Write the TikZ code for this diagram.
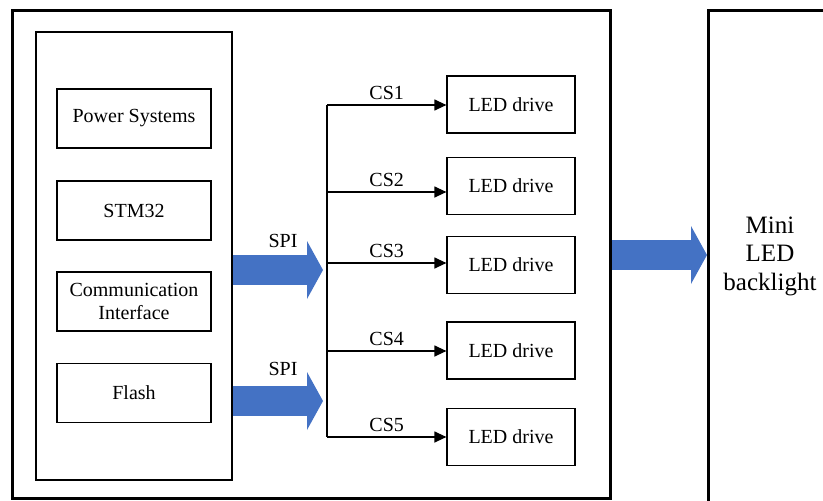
\documentclass[tikz,border=0pt]{standalone}
\usepackage{fontspec}
\setmainfont{Liberation Serif}
\usetikzlibrary{arrows.meta,positioning}

\definecolor{spiblue}{HTML}{4472C4}

\begin{document}
\begin{tikzpicture}[x=1pt, y=-1pt,
		font=\fontsize{20}{23}\selectfont,
		block/.style={draw, line width=1.2pt, align=center, inner sep=0pt, minimum width=154pt, minimum height=59pt},
		drive/.style={draw, line width=1.2pt, inner sep=0pt, minimum width=128pt, minimum height=57pt},
		frame/.style={draw, line width=3pt, inner sep=0pt},
		bus/.style={line width=1.2pt},
		cs/.style={line width=1.2pt, -{Triangle[length=12pt, width=11pt]}},
		fat/.style={spiblue, line width=30pt, -{Triangle[length=16pt, width=58pt, line width=0pt]}}
	]
		\useasboundingbox (0,0) rectangle (823,501);

		% outer board and controller
		\node[frame, minimum width=598pt, minimum height=488pt] (board) at (311,254) {};
		\node[frame, line width=2.2pt, minimum width=196pt, minimum height=448pt] (mcu) at (134,256) {};

		\node[block] (power) at (134,118.5) {Power Systems};
		\node[block] (stm) at (134,210.5) {STM32};
		\node[block] (comm) at (134,301.5) {Communication\\Interface};
		\node[block] (flash) at (134,393) {Flash};

		% LED drivers
		\node[drive] (drv1) at (511,104.5) {LED drive};
		\node[drive] (drv2) at (511,186) {LED drive};
		\node[drive] (drv3) at (511,265) {LED drive};
		\node[drive] (drv4) at (511,350.5) {LED drive};
		\node[drive] (drv5) at (511,437) {LED drive};

		% backlight panel
		\node[frame, anchor=north west, minimum width=200pt, minimum height=520pt] (panel) at (707,9) {};
		\node[align=center, font=\fontsize{25}{28.5}\selectfont] (paneltxt) at (770,256) {Mini\\LED\\backlight};

		% chip select bus
		\coordinate (b1) at (327,105);
		\coordinate (b2) at (327,192);
		\coordinate (b3) at (327,263);
		\coordinate (b4) at (327,351);
		\coordinate (b5) at (327,437);
		\draw[bus] (b1) -- (b5);
		\draw[cs] (b1) -- (b1 -| drv1.west) node[midway, above=1pt] {CS1};
		\draw[cs] (b2) -- (b2 -| drv2.west) node[midway, above=1pt] {CS2};
		\draw[cs] (b3) -- (b3 -| drv3.west) node[midway, above=1pt] {CS3};
		\draw[cs] (b4) -- (b4 -| drv4.west) node[midway, above=1pt] {CS4};
		\draw[cs] (b5) -- (b5 -| drv5.west) node[midway, above=1pt] {CS5};

		% SPI links
		\coordinate (spi1) at (323,270);
		\coordinate (spi2) at (323,401);
		\draw[fat] (spi1 -| mcu.east) -- (spi1);
		\draw[fat] (spi2 -| mcu.east) -- (spi2);
		\node (spilbl1) at (283,241) {SPI};
		\node (spilbl2) at (283,369) {SPI};

		\coordinate (out) at (707,255);
		\draw[fat] (out -| board.east) -- (out -| panel.west);
	\end{tikzpicture}
\end{document}
